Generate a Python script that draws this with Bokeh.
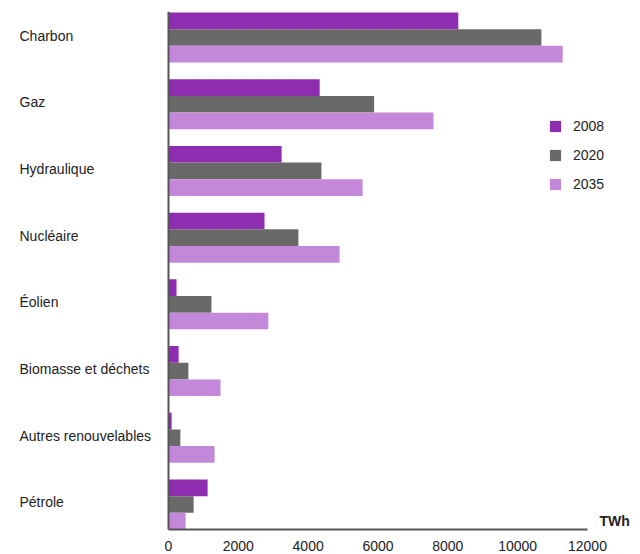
from bokeh.plotting import figure
from bokeh.models import Range1d, FixedTicker, Label, Legend, LegendItem, ColumnDataSource, Span
from bokeh.embed import file_html
from bokeh.resources import INLINE

categories = ["Charbon", "Gaz", "Hydraulique", "Nucléaire", "Éolien",
              "Biomasse et déchets", "Autres renouvelables", "Pétrole"]
years = ["2008", "2020", "2035"]
v2008 = [8300, 4330, 3240, 2750, 230, 290, 90, 1120]
v2020 = [10680, 5890, 4380, 3720, 1230, 570, 340, 720]
v2035 = [11290, 7590, 5560, 4900, 2860, 1490, 1320, 490]
colors = ["#8E2DB0", "#696969", "#C388DA"]
xticks = [0, 2000, 4000, 6000, 8000, 10000, 12000]

FONT = "Liberation Sans"
n = len(categories)
centers = [n - 1 - i for i in range(n)]
bar_h = 0.25
offsets = [0.25, 0.0, -0.25]

# frame spans full width; zero sits 168px in, 12000 at 587px
p = figure(width=640, height=554, output_backend="svg", toolbar_location=None,
           x_range=Range1d(-4811, 13518), y_range=Range1d(-0.375, 7.39),
           min_border_left=0, min_border_right=0, min_border_top=11, min_border_bottom=25)
p.outline_line_color = None
p.xgrid.visible = False
p.ygrid.visible = False
p.yaxis.visible = False

renderers = []
for vals, off, col in zip([v2008, v2020, v2035], offsets, colors):
    src = ColumnDataSource(dict(y=[c + off for c in centers], right=vals))
    r = p.hbar(y="y", left=0, right="right", height=bar_h, source=src,
               fill_color=col, line_color=None)
    renderers.append(r)

# x axis
p.xaxis.ticker = FixedTicker(ticks=xticks)
p.xaxis.bounds = (0, 12000)
p.xaxis.major_tick_line_color = None
p.xaxis.minor_tick_line_color = None
p.xaxis.axis_line_color = "#555555"
p.xaxis.axis_line_width = 2
p.xaxis.major_label_text_font = FONT
p.xaxis.major_label_text_font_size = "14px"
p.xaxis.major_label_text_color = "#222222"
p.xaxis.major_label_standoff = 5

# vertical axis line
p.add_layout(Span(location=0, dimension="height", line_color="#555555", line_width=2))

for cat, c in zip(categories, centers):
    p.add_layout(Label(x=19, x_units="screen", y=c, y_offset=2, text=cat,
                       text_font=FONT, text_font_size="14px", text_color="#222222",
                       text_baseline="middle", text_align="left"))

p.add_layout(Label(x=599, x_units="screen", y=1, y_units="screen", text="TWh",
                   text_font=FONT, text_font_size="14px", text_font_style="bold",
                   text_color="#222222", text_baseline="bottom", text_align="left"))

legend = Legend(items=[LegendItem(label=y, renderers=[r]) for y, r in zip(years, renderers)],
                location=(548, 337), background_fill_alpha=0, border_line_color=None,
                glyph_width=14, glyph_height=14, label_standoff=11, spacing=13,
                label_text_font=FONT, label_text_font_size="14px", label_text_color="#222222",
                padding=0, margin=0)
p.add_layout(legend)

open("out.html", "w").write(file_html(p, INLINE))
